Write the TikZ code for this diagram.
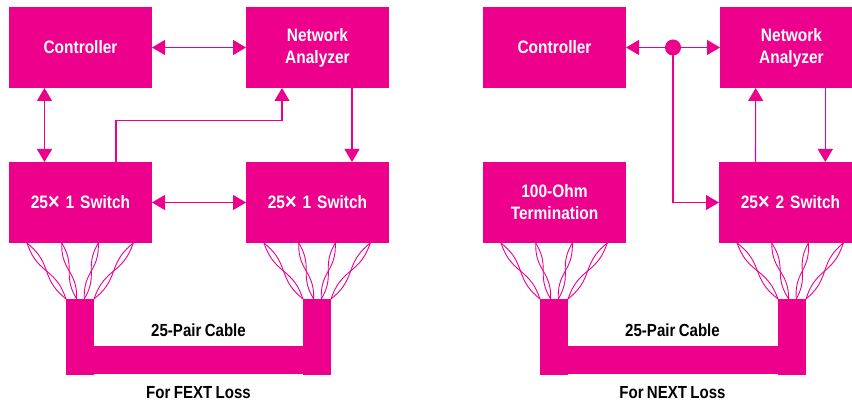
\documentclass[tikz,border=0pt]{standalone}
\usepackage{fontspec}
\setmainfont[FakeStretch=0.86,WordSpace=0.8]{Liberation Sans}
\usetikzlibrary{arrows.meta,calc}
\definecolor{hotpink}{RGB}{236,0,140}
\newcommand{\bigx}{{\fontsize{23}{22}\selectfont\raisebox{-1pt}{×}}}
\tikzstyle{line} = [draw, color=hotpink, line width=1.1pt, -{Triangle[length=13pt,width=15pt]}]
\tikzstyle{dline} = [line, {Triangle[length=13pt,width=15pt]}-{Triangle[length=13pt,width=15pt]}]
\tikzstyle{block} = [rectangle, fill=hotpink, text=white, font=\fontsize{18}{22}\selectfont\bfseries,
  text width=143pt, text centered, minimum height=81pt, inner sep=0pt, outer sep=0pt]
\tikzstyle{stub} = [rectangle, fill=hotpink, minimum width=28pt, minimum height=76pt, inner sep=0pt, outer sep=0pt]
\tikzstyle{cable} = [rectangle, fill=hotpink, minimum height=28pt, inner sep=0pt, outer sep=0pt]
\tikzstyle{dot} = [circle, fill=hotpink, minimum size=16pt, inner sep=0pt, outer sep=0pt]
\tikzstyle{caption} = [text=black, font=\fontsize{17.5}{20}\selectfont\bfseries, inner sep=0pt]
\tikzstyle{wire} = [draw, color=hotpink, line width=0.9pt]

\begin{document}
\begin{tikzpicture}[x=1pt, y=1pt, node distance=237pt]
  \clip (0,0) rectangle (852,-403);

  % FEXT side
  \node [block] (ctrlA) at (80.5,-47.5) {Controller};
  \node [block, right of=ctrlA] (anaA) {Network\\Analyzer};
  \node [block, below of=ctrlA, node distance=155pt] (swA) {25\bigx{} 1 Switch};
  \node [block, right of=swA] (swB) {25\bigx{} 1 Switch};
  \node [stub, below of=swA, node distance=134.5pt, xshift=-0.5pt] (stubA) {};
  \node [stub, below of=swB, node distance=134.5pt, xshift=-0.5pt] (stubB) {};
  \node [cable, minimum width=237pt] (cableA) at (212.5,-360) {};
  \node [caption] (pairA) at (198.5,-330.5) {25-Pair Cable};
  \node [caption] (capA) at (198.5,-392.5) {For FEXT Loss};

  % NEXT side
  \node [block] (ctrlB) at (554.5,-47.5) {Controller};
  \node [block, right of=ctrlB] (anaB) {Network\\Analyzer};
  \node [block, below of=ctrlB, node distance=155pt] (termB) {100-Ohm\\Termination};
  \node [block, right of=termB, xshift=-1pt] (swC) {25\bigx{} 2 Switch};
  \node [dot, right of=ctrlB, node distance=118.5pt] (junc) {};
  \node [stub, below of=termB, node distance=134.5pt, xshift=-0.5pt] (stubC) {};
  \node [stub, below of=swC, node distance=134.5pt, xshift=1.5pt] (stubD) {};
  \node [cable, minimum width=220pt] (cableB) at (673,-360) {};
  \node [caption] (pairB) at (672.5,-330.5) {25-Pair Cable};
  \node [caption] (capB) at (672.5,-392.5) {For NEXT Loss};

  \path [dline] (ctrlA) -- (anaA);
  \path [dline] ([xshift=-36pt]ctrlA.south) -- ([xshift=-36pt]swA.north);
  \path [dline] (swA) -- (swB);
  \path [line] ([xshift=35.5pt]swA.north) -- ++(0,41.5) -| ([xshift=-35.5pt]anaA.south);
  \path [line] ([xshift=34.5pt]anaA.south) -- ([xshift=34.5pt]swB.north);

  \path [line] (junc) -- (ctrlB);
  \path [line] (junc) -- (anaB);
  \path [line] (junc) |- (swC);
  \path [line] ([xshift=-35pt]swC.north) -- ([xshift=-35.8pt]anaB.south);
  \path [line] ([xshift=33.8pt]anaB.south) -- ([xshift=34.8pt]swC.north);

  % twisted pairs
  \foreach \sw/\st in {swA/stubA, swB/stubB, termB/stubC, swC/stubD} {
    \foreach \a/\b in {18/0, 52.7/10.7, 89.3/18.3, 124.3/28} {
      \coordinate (top) at ([xshift=\a pt]\sw.south west);
      \coordinate (bot) at ([xshift=\b pt]\st.north west);
      \coordinate (mid) at ($(top)!0.5!(bot)$);
      \path [wire] (top) to [bend left=16] (mid) to [bend right=16] (bot);
      \path [wire] (top) to [bend right=16] (mid) to [bend left=16] (bot);
    }
  }
\end{tikzpicture}
\end{document}
